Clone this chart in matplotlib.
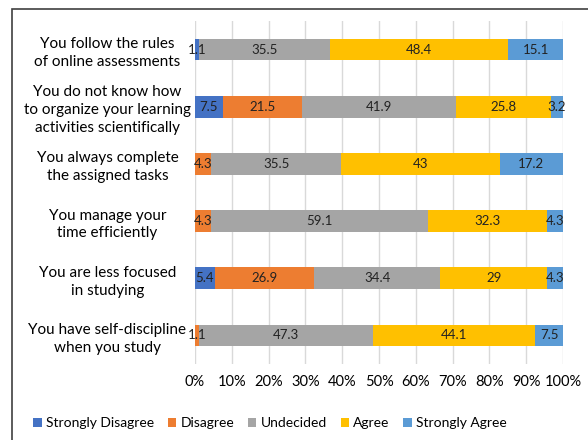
import matplotlib.pyplot as plt
from matplotlib.patches import Rectangle
import numpy as np

plt.rcParams['font.family'] = ['Lato', 'DejaVu Sans']

# survey statements, top to bottom
statements = [
    'You follow the rules\nof online assessments',
    'You do not know how\nto organize your learning\nactivities scientifically',
    'You always complete\nthe assigned tasks',
    'You manage your\ntime efficiently',
    'You are less focused\nin studying',
    'You have self-discipline\nwhen you study',
]
levels = ['Strongly Disagree', 'Disagree', 'Undecided', 'Agree', 'Strongly Agree']
colors = ['#4472C4', '#ED7D31', '#A5A5A5', '#FFC000', '#5B9BD5']

# percentages per level (same order as statements)
strongly_disagree = [1.1, 7.5, 0, 0, 5.4, 0]
disagree = [0, 21.5, 4.3, 4.3, 26.9, 1.1]
undecided = [35.5, 41.9, 35.5, 59.1, 34.4, 47.3]
agree = [48.4, 25.8, 43, 32.3, 29, 44.1]
strongly_agree = [15.1, 3.2, 17.2, 4.3, 4.3, 7.5]

series = [strongly_disagree, disagree, undecided, agree, strongly_agree]

fig = plt.figure(figsize=(5.88, 4.40), dpi=100)
# outer chart frame
fig.patches.append(Rectangle((12 / 588, -0.1), 1.2, 1 - 9 / 440 + 0.1,
                             transform=fig.transFigure, fill=False,
                             edgecolor='#404040', linewidth=1.2))
ax = fig.add_axes([195 / 588, 1 - 364 / 440, 368 / 588, 343 / 440])

y = np.arange(len(statements))
left = np.zeros(len(statements))
for name, vals, col in zip(levels, series, colors):
    vals = np.array(vals, dtype=float)
    ax.barh(y, vals, left=left, height=0.38, color=col, label=name, zorder=2)
    for yi, (l, v) in enumerate(zip(left, vals)):
        if v > 0:
            ax.text(l + v / 2, yi, f'{v:g}', ha='center', va='center',
                    fontsize=9.5, color='#222222', zorder=3)
    left += vals

ax.set_xlim(0, 100)
ax.set_ylim(len(statements) - 0.5, -0.5)
ax.set_xticks(np.arange(0, 101, 10))
ax.set_xticklabels([f'{t}%' for t in range(0, 101, 10)], fontsize=10.5)
ax.set_yticks(y)
ax.set_yticklabels(statements, fontsize=11, ha='center', linespacing=1.35)
ax.tick_params(axis='y', length=0, pad=63)
ax.tick_params(axis='x', length=0, pad=8)
ax.grid(axis='x', color='#D9D9D9', linewidth=1, zorder=0)
for s in ax.spines.values():
    s.set_visible(False)

ax.legend(loc='center', bbox_to_anchor=(270 / 588, 1 - 423 / 440),
          bbox_transform=fig.transFigure, ncol=5, frameon=False,
          fontsize=10, handlelength=0.6, handleheight=0.6,
          handletextpad=0.3, columnspacing=1.0, borderpad=0)

fig.savefig('out.png', dpi=100)
